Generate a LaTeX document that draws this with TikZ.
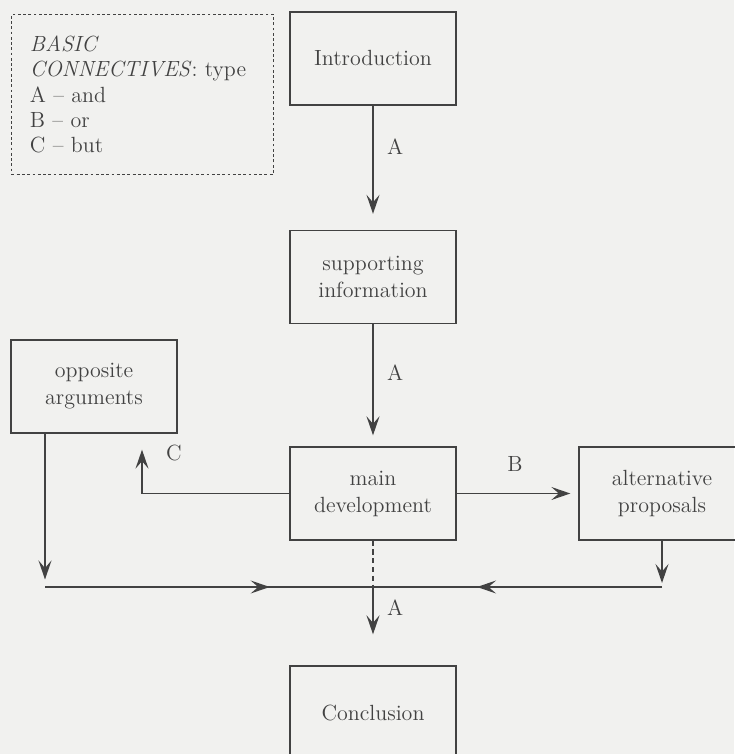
\documentclass[tikz,border=0pt]{standalone}
\usetikzlibrary{arrows.meta,decorations.markings}
\definecolor{ink}{HTML}{424242}
\definecolor{paper}{HTML}{F1F1EF}

\begin{document}
\begin{tikzpicture}[ink, font=\fontsize{12.5}{15.4}\selectfont]
                \tikzstyle{box}=[draw, line width=0.75pt, minimum width=3.32cm, minimum height=1.86cm, align=center]
                \tikzstyle{tip}=[-{Stealth[length=0.38cm, width=0.26cm, inset=0.15cm]}]
                \tikzstyle{arr}=[tip, line width=0.9pt]
                \tikzstyle{midarr}=[line width=0.9pt, postaction={decorate}, decoration={markings, mark=at position #1 with {\arrow{Stealth[length=0.38cm, width=0.26cm, inset=0.15cm]}}}]

                \path[use as bounding box, fill=paper] (0,0) rectangle (14.68,15.08);

                \node[draw, line width=0.5pt, dash pattern=on 1.6pt off 1.4pt, anchor=north west, minimum width=5.24cm, minimum height=3.2cm, text width=4.5cm, align=left, font=\fontsize{12.5}{14.4}\selectfont] (key) at (0.22,14.8) {\textit{BASIC}\\\textit{CONNECTIVES}: type\\A -- and\\B -- or\\C -- but};

                \node[box] (intro) at (7.46,13.91) {Introduction};
                \node[box] (sup) at (7.46,9.54) {supporting\\information};
                \node[box] (dev) at (7.46,5.21) {main\\development};
                \node[box] (opp) at (1.88,7.35) {opposite\\arguments};
                \node[box] (alt) at (13.24,5.21) {alternative\\proposals};
                \node[box] (concl) at (7.46,0.83) {Conclusion};

                \coordinate (j) at (7.46,3.34);
                \coordinate (lc) at (0.9,3.34);
                \coordinate (rc) at (13.24,3.34);

                \draw[arr, shorten >=0.32cm] (intro) -- node[pos=0.33, right=0.15cm] {A} (sup);
                \draw[arr, shorten >=0.22cm] (sup) -- node[pos=0.4, right=0.15cm] {A} (dev);
                \draw[arr, shorten >=0.16cm] (dev) -- node[pos=0.48, above=0.3cm] {B} (alt);
                \draw[arr, shorten >=0.32cm] (dev.west) -| node[pos=0.84, right=0.35cm] {C} ([xshift=0.96cm]opp.south);

                \draw[arr, shorten >=0.15cm] (opp.south -| lc) -- (lc);
                \draw[arr, shorten >=0.08cm] (alt.south) -- (rc);
                \draw[midarr=0.685] (lc) -- (j);
                \draw[midarr=0.64] (rc) -- (j);
                \draw[line width=0.8pt, densely dashed] (dev) -- (j);
                \draw[arr, shorten >=0.62cm] (j) -- node[pos=0.27, right=0.15cm] {A} (concl);
            \end{tikzpicture}
\end{document}
